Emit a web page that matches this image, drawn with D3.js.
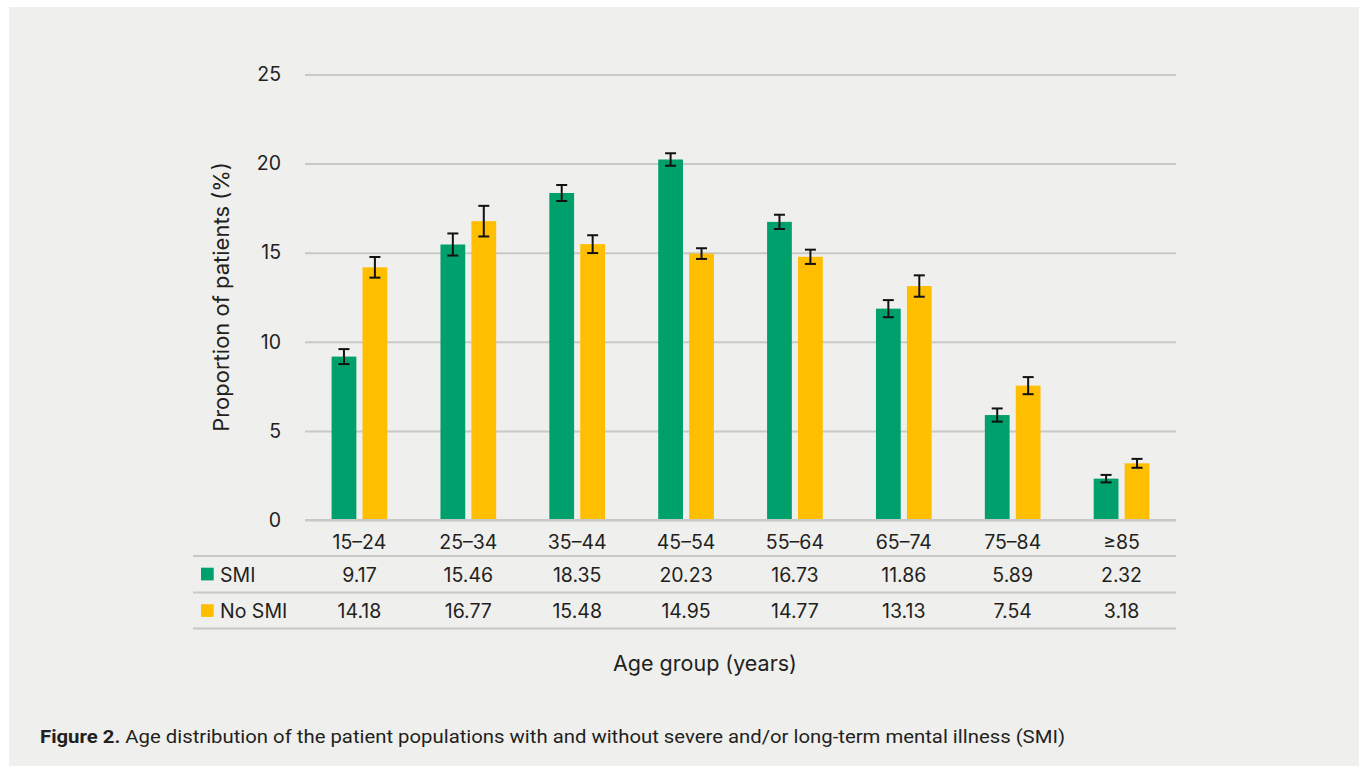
<!DOCTYPE html>
<html>
<head>
<meta charset="utf-8">
<script src="https://cdn.jsdelivr.net/npm/d3@7"></script>
<style>
  html, body { margin: 0; padding: 0; background: #ffffff; }
  svg { display: block; }
  text { font-family: Inter, "Liberation Sans", Arial, sans-serif; fill: #231f20; }
</style>
</head>
<body>
<svg id="chart" width="1359" height="766"></svg>
<script>
// Age groups and proportions (%) of patients
const ageGroups = ["15\u201324", "25\u201334", "35\u201344", "45\u201354", "55\u201364", "65\u201374", "75\u201384", "\u226585"];
const seriesNames = ["SMI", "No SMI"];
const smiValues   = [9.17, 15.46, 18.35, 20.23, 16.73, 11.86, 5.89, 2.32];
const noSmiValues = [14.18, 16.77, 15.48, 14.95, 14.77, 13.13, 7.54, 3.18];
// 95% confidence half-widths
const smiErrors   = [0.42, 0.62, 0.45, 0.35, 0.40, 0.48, 0.37, 0.21];
const noSmiErrors = [0.58, 0.86, 0.50, 0.30, 0.40, 0.60, 0.48, 0.25];
const yTicks = [0, 5, 10, 15, 20, 25];

const colors = { "SMI": "#00a06c", "No SMI": "#ffbe00" };
const FONT = "Inter, 'Liberation Sans', Arial, sans-serif";
const LABEL_SIZE = 19.5;

const svg = d3.select("#chart");

// panel background
svg.append("rect").attr("x", 9).attr("y", 7).attr("width", 1350).attr("height", 759).attr("fill", "#efefed");

const plot = { left: 305, right: 1176, top: 74.5, bottom: 520 };

const x = d3.scaleBand().domain(ageGroups).range([plot.left, plot.right]).padding(0);
const xs = d3.scaleBand().domain(seriesNames).range([0, 55.7]).paddingInner(0.2).paddingOuter(0);
const y = d3.scaleLinear().domain([0, 25]).range([plot.bottom, plot.top]);

const rows = ageGroups.map((g, i) => ({
  group: g,
  values: [
    { name: "SMI", value: smiValues[i], err: smiErrors[i] },
    { name: "No SMI", value: noSmiValues[i], err: noSmiErrors[i] }
  ]
}));

// horizontal gridlines
const yAxis = d3.axisLeft(y).tickValues(yTicks).tickSize(-(plot.right - plot.left)).tickPadding(24).tickFormat(d3.format("d"));
const yg = svg.append("g").attr("transform", `translate(${plot.left},0)`).call(yAxis);
yg.select(".domain").remove();
yg.selectAll(".tick line").attr("stroke", "#c8c8c6").attr("stroke-width", 2);
yg.selectAll(".tick text").attr("font-size", LABEL_SIZE).attr("fill", "#231f20").style("font-family", FONT);

// bars
const groups = svg.append("g").selectAll("g").data(rows).join("g")
  .attr("transform", d => `translate(${x(d.group) + x.bandwidth() / 2 - 55.7 / 2},0)`);

groups.selectAll("rect").data(d => d.values).join("rect")
  .attr("x", d => xs(d.name))
  .attr("y", d => y(d.value))
  .attr("width", xs.bandwidth())
  .attr("height", d => y(0) - y(d.value))
  .attr("fill", d => colors[d.name]);

// error bars
const eb = groups.selectAll("g.err").data(d => d.values).join("g").attr("class", "err")
  .attr("transform", d => `translate(${xs(d.name) + xs.bandwidth() / 2},0)`);
eb.append("line").attr("x1", 0).attr("x2", 0)
  .attr("y1", d => y(d.value + d.err)).attr("y2", d => y(d.value - d.err))
  .attr("stroke", "#111").attr("stroke-width", 2);
eb.selectAll("line.cap").data(d => [d.value + d.err, d.value - d.err]).join("line").attr("class", "cap")
  .attr("x1", -5.5).attr("x2", 5.5).attr("y1", v => y(v)).attr("y2", v => y(v))
  .attr("stroke", "#111").attr("stroke-width", 2);

// baseline redrawn over the bars
svg.append("line").attr("x1", plot.left).attr("x2", plot.right).attr("y1", y(0)).attr("y2", y(0))
  .attr("stroke", "#c8c8c6").attr("stroke-width", 2);

// category labels
const xAxis = d3.axisBottom(x).tickSize(0).tickPadding(15);
const xg = svg.append("g").attr("transform", `translate(0,${plot.bottom})`).call(xAxis);
xg.select(".domain").remove();
xg.selectAll(".tick text").attr("font-size", LABEL_SIZE).attr("fill", "#231f20").style("font-family", FONT);

// data table
const tableLeft = 193;
[556, 592.5, 628.5].forEach(ly => {
  svg.append("line").attr("x1", tableLeft).attr("x2", plot.right).attr("y1", ly).attr("y2", ly)
    .attr("stroke", "#c8c8c6").attr("stroke-width", 2);
});
const tableRows = [
  { name: "SMI", values: smiValues, baseline: 581.5 },
  { name: "No SMI", values: noSmiValues, baseline: 618 }
];
tableRows.forEach(r => {
  svg.append("rect").attr("x", 201).attr("y", r.baseline - 13.8).attr("width", 12.7).attr("height", 12.7)
    .attr("fill", colors[r.name]);
  svg.append("text").attr("x", 220).attr("y", r.baseline).attr("font-size", LABEL_SIZE).text(r.name);
  svg.append("g").selectAll("text").data(r.values).join("text")
    .attr("x", (d, i) => x(ageGroups[i]) + x.bandwidth() / 2)
    .attr("y", r.baseline).attr("text-anchor", "middle").attr("font-size", LABEL_SIZE)
    .text(d => d3.format(".2f")(d));
});

// axis titles
svg.append("text").attr("transform", "translate(229,297) rotate(-90)")
  .attr("text-anchor", "middle").attr("font-size", 22).text("Proportion of patients (%)");
svg.append("text").attr("x", 705).attr("y", 671).attr("text-anchor", "middle")
  .attr("font-size", 21.5).text("Age group (years)");

// caption
const cap = svg.append("text").attr("x", 40).attr("y", 743).attr("font-size", 19)
  .style("font-family", "Roboto, 'Liberation Sans', sans-serif");
cap.append("tspan").attr("font-weight", "bold").text("Figure 2.");
cap.append("tspan").text(" Age distribution of the patient populations with and without severe and/or long-term mental illness (SMI)");
cap.attr("textLength", 1025).attr("lengthAdjust", "spacingAndGlyphs");
</script>
</body>
</html>
